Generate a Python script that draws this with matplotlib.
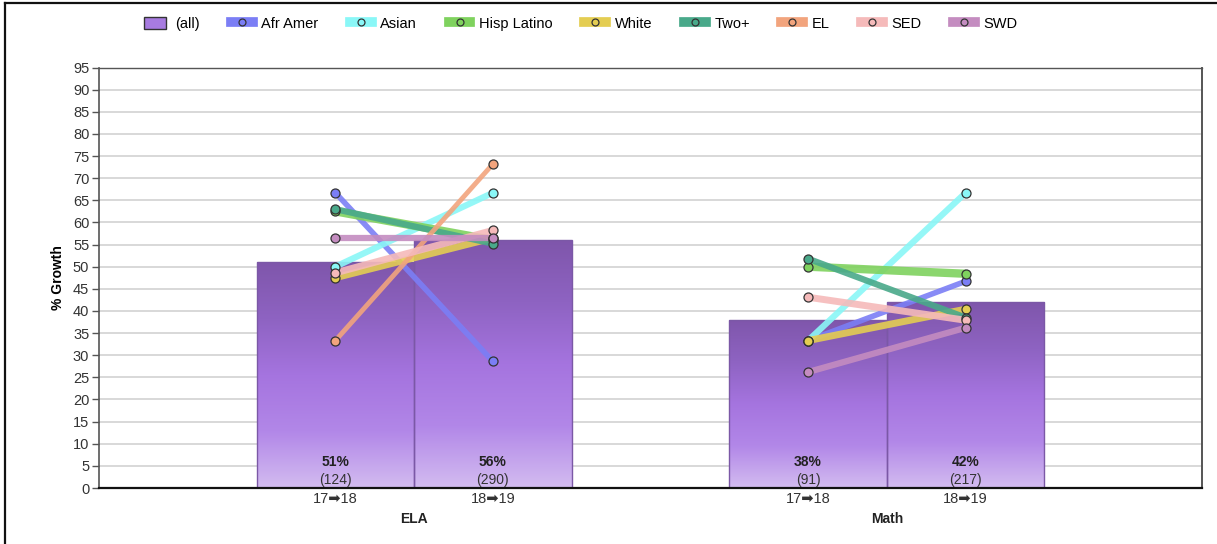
import numpy as np
import matplotlib
matplotlib.use("Agg")
import matplotlib.pyplot as plt
from matplotlib.colors import LinearSegmentedColormap
from matplotlib.lines import Line2D
from matplotlib.patches import Patch, Rectangle

plt.rcParams['font.family'] = ['Liberation Sans', 'DejaVu Sans']

# ---- data ----
subjects = ["ELA", "Math"]
periods = ["17\u27a118", "18\u27a119"]
all_growth = [[51, 56], [38, 42]]
all_counts = [[124, 290], [91, 217]]

groups = ["Afr Amer", "Asian", "Hisp Latino", "White", "Two+", "EL", "SED", "SWD"]
group_colors = ["#7b7ef5", "#8af7f7", "#7fd25e", "#e4cd52", "#49a98a",
                "#f2a47d", "#f5baba", "#c48cc0"]
group_widths = [4.0, 4.5, 6.0, 5.0, 4.5, 3.5, 5.0, 4.5]

# growth by group: [subject][period]
afr_amer = [[66.7, 28.6], [33.3, 46.7]]
asian = [[50.0, 66.7], [33.3, 66.7]]
hisp_latino = [[62.5, 56.0], [50.0, 48.4]]
white = [[47.5, 56.5], [33.3, 40.4]]
two_plus = [[63.0, 55.2], [51.8, 38.5]]
el = [[33.3, 73.2], [None, None]]
sed = [[48.6, 58.2], [43.1, 37.9]]
swd = [[56.5, 56.5], [26.2, 36.2]]
group_values = [afr_amer, asian, hisp_latino, white, two_plus, el, sed, swd]

yticks = list(range(0, 100, 5))

# ---- figure ----
W, H = 1217, 544
fig = plt.figure(figsize=(W / 100, H / 100), dpi=100)
ax = fig.add_axes([99 / W, 1 - 488 / H, (1202 - 99) / W, (488 - 67.5) / H])

bar_w = 1 / 3
centers = []
for si in range(2):
    for pi in range(2):
        centers.append((si, pi, si + (pi - 0.5) * bar_w))

ax.set_xlim(-2 / 3, 5 / 3)
ax.set_ylim(0, 95)

# gridlines
for t in yticks[1:]:
    ax.axhline(t, color="#d8d8d8", lw=1.4, zorder=0)

cmap = LinearSegmentedColormap.from_list(
    "bar", ["#d3bcf0", "#b287e8", "#a574df", "#8e63c2", "#7f56ab"])
grad = np.linspace(0, 1, 256).reshape(-1, 1)

for si, pi, xc in centers:
    h = all_growth[si][pi]
    x0, x1 = xc - bar_w / 2, xc + bar_w / 2
    im = ax.imshow(grad, extent=[x0, x1, 0, h], origin="lower", aspect="auto",
                   cmap=cmap, zorder=1, interpolation="bicubic")
    rect = Rectangle((x0, 0), bar_w, h, facecolor="none",
                     edgecolor="#7b58a6", lw=1.0, zorder=1.5)
    ax.add_patch(rect)
    im.set_clip_path(rect)
    ax.annotate(f"{h}%", (xc, 0), xytext=(0, 14), textcoords="offset points",
                ha="center", va="bottom", fontsize=10, fontweight="bold",
                color="#222222", zorder=5)
    ax.annotate(f"({all_counts[si][pi]})", (xc, 0), xytext=(0, 1.0),
                textcoords="offset points", ha="center", va="bottom",
                fontsize=10, color="#333333", zorder=5)

# subgroup lines
for gi, vals in enumerate(group_values):
    for si in range(2):
        ys = vals[si]
        if ys[0] is None:
            continue
        xs = [si - bar_w / 2, si + bar_w / 2]
        ax.plot(xs, ys, color=group_colors[gi], lw=group_widths[gi],
                alpha=0.9, solid_capstyle="butt", zorder=3)
        ax.plot(xs, ys, ls="none", marker="o", ms=6.5, mfc=group_colors[gi],
                mec="#333333", mew=0.9, zorder=4)

# axes styling
ax.set_yticks(yticks)
ax.set_yticklabels([str(t) for t in yticks], fontsize=10.5, color="#333333")
ax.tick_params(axis="y", length=5, width=1, color="#555555", pad=2)
ax.set_xticks([c[2] for c in centers])
ax.set_xticklabels([periods[c[1]] for c in centers], fontsize=10.5,
                   color="#333333")
ax.tick_params(axis="x", length=0, pad=3)
for si, name in enumerate(subjects):
    ax.annotate(name, (si, 0), xycoords=("data", "axes fraction"),
                xytext=(0, -17), textcoords="offset points", ha="center",
                va="top", fontsize=10, fontweight="bold", color="#222222")
ax.set_ylabel("% Growth", fontsize=10, fontweight="bold", labelpad=6)
ax.spines["bottom"].set_color("#111111")
ax.spines["bottom"].set_linewidth(1.6)
ax.spines["left"].set_color("#555555")
ax.spines["left"].set_linewidth(1.2)
ax.spines["top"].set_color("#555555")
ax.spines["top"].set_linewidth(1.0)
ax.spines["right"].set_color("#555555")
ax.spines["right"].set_linewidth(1.4)

# legend
handles = [Patch(facecolor="#a77be0", edgecolor="#333333", lw=1.0)]
for c in group_colors:
    handles.append(Line2D([0], [0], color=c, lw=7, marker="o", ms=5,
                          mfc=c, mec="#333333", mew=0.9))
labels = ["(all)"] + groups
fig.legend(handles, labels, loc="center left",
           bbox_to_anchor=(131 / W, 1 - 24 / H), ncol=9, frameon=False,
           fontsize=10.5, handlelength=1.5, handleheight=0.9,
           columnspacing=2.15, handletextpad=0.6)

# outer frame (left and top edges)
fig.add_artist(Line2D([4.5 / W, 4.5 / W], [0, 1 - 3 / H], color="#111111",
                      lw=1.6, transform=fig.transFigure))
fig.add_artist(Line2D([4.5 / W, 1], [1 - 3 / H, 1 - 3 / H], color="#111111",
                      lw=1.6, transform=fig.transFigure))

fig.savefig("out.png", dpi=100)
